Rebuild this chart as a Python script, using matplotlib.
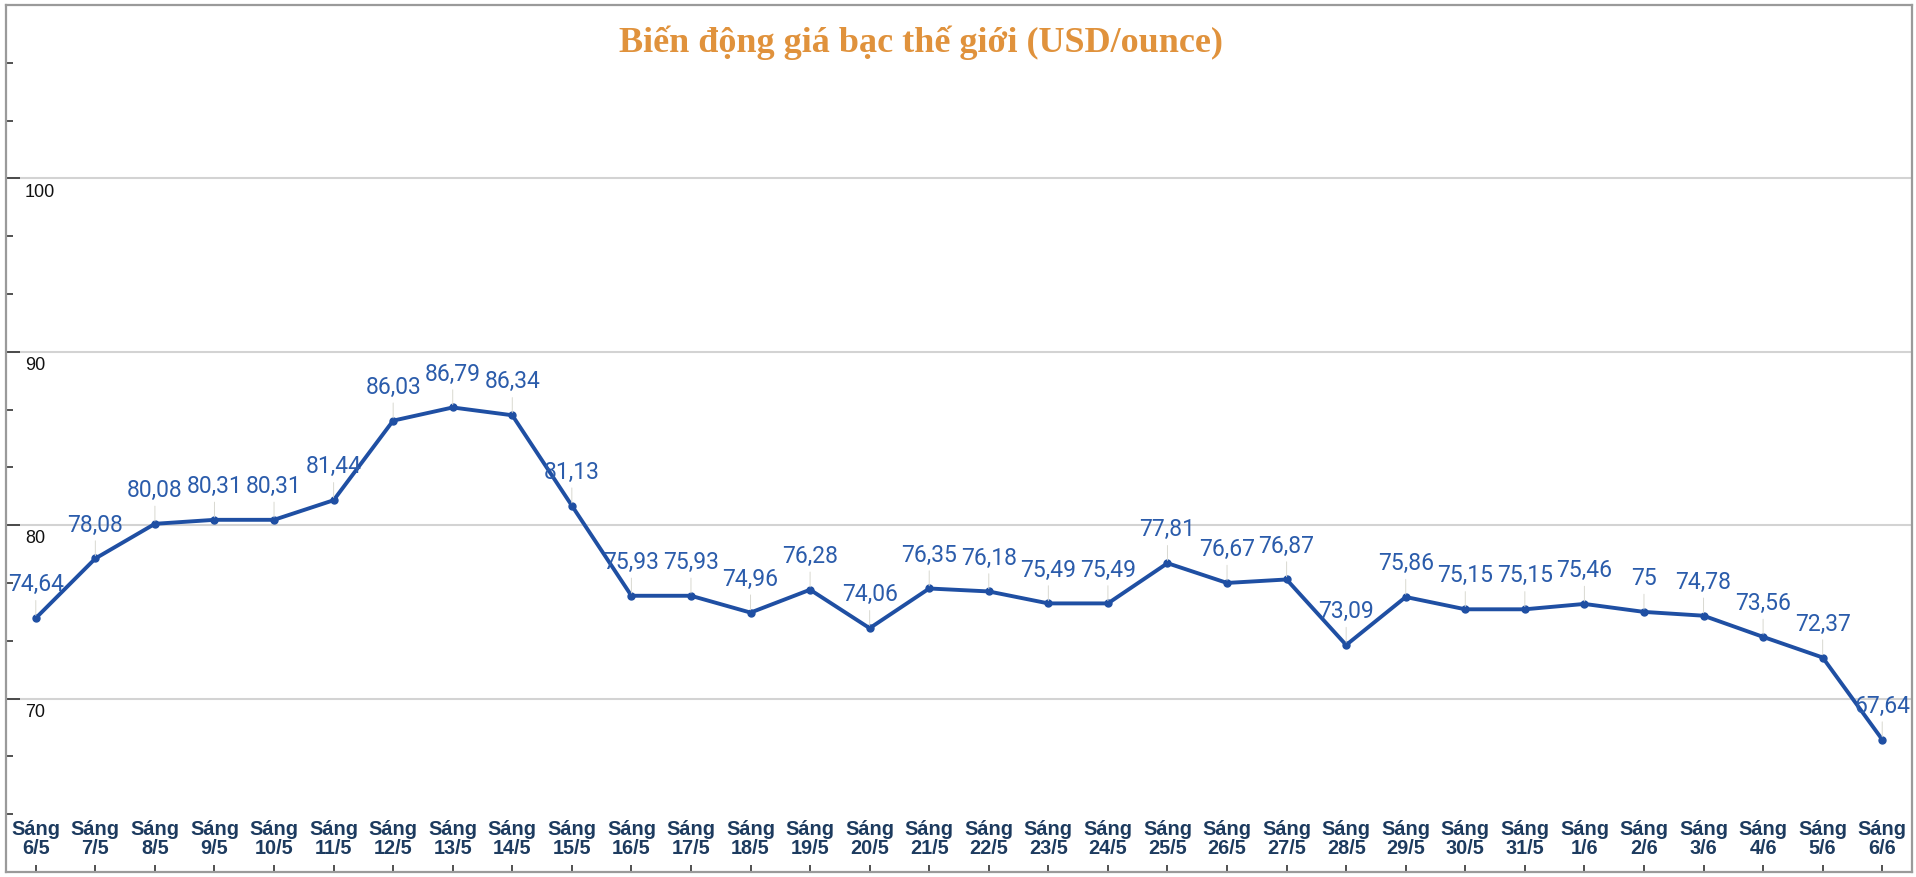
import matplotlib.pyplot as plt
import numpy as np
from matplotlib.ticker import MultipleLocator

# du lieu gia bac (USD/ounce)
days = ['6/5', '7/5', '8/5', '9/5', '10/5', '11/5', '12/5', '13/5', '14/5', '15/5',
        '16/5', '17/5', '18/5', '19/5', '20/5', '21/5', '22/5', '23/5', '24/5', '25/5',
        '26/5', '27/5', '28/5', '29/5', '30/5', '31/5', '1/6', '2/6', '3/6', '4/6',
        '5/6', '6/6']
prices = [74.64, 78.08, 80.08, 80.31, 80.31, 81.44, 86.03, 86.79, 86.34, 81.13,
          75.93, 75.93, 74.96, 76.28, 74.06, 76.35, 76.18, 75.49, 75.49, 77.81,
          76.67, 76.87, 73.09, 75.86, 75.15, 75.15, 75.46, 75.00, 74.78, 73.56,
          72.37, 67.64]
grid_values = [70, 80, 90, 100]

line_color = '#1f4fa3'
label_color = '#2b5cab'

fig = plt.figure(figsize=(19.16, 8.77), dpi=100)
ax = fig.add_axes([6 / 1916, 5 / 877, 1906 / 1916, 867 / 877])

x = np.arange(len(prices))
ax.plot(x, prices, color=line_color, lw=2.8, marker='o', ms=5, zorder=3)

def fmt(v):
    s = f'{v:.2f}'.rstrip('0').rstrip('.')
    return s.replace('.', ',')

for xi, v in zip(x, prices):
    ax.annotate(fmt(v), (xi, v), xytext=(0, 24), textcoords='offset points',
                ha='center', va='center', fontsize=16.5, color=label_color,
                family=['Roboto', 'DejaVu Sans'], zorder=4,
                arrowprops=dict(arrowstyle='-', color='#d8d8d0', lw=0.7,
                                shrinkA=1, shrinkB=2))

ax.set_xlim(-0.5, len(prices) - 0.5)
ax.set_ylim(60, 110)

for g in grid_values:
    ax.axhline(g, color='#d3d3d3', lw=1.5, zorder=1)
    ax.text(0.01, g - 0.3, str(g), transform=ax.get_yaxis_transform(),
            ha='left', va='top', fontsize=13, color='#111111',
            family='Liberation Sans')

# nhan truc x ben trong vung ve
for xi, d in zip(x, days):
    ax.text(xi, 61.9, f'Sáng\n{d}', ha='center', va='center', fontsize=14.3,
            fontweight='bold', color='#1d3b5f', linespacing=1.05,
            family='Liberation Sans')

ax.set_xticks(x)
ax.set_xticklabels([])
ax.set_yticks(grid_values)
ax.set_yticklabels([])
ax.yaxis.set_minor_locator(MultipleLocator(10 / 3))
ax.tick_params(axis='x', direction='in', length=5, width=1.2, color='#333333')
ax.tick_params(axis='y', which='major', direction='in', length=10, width=1.2, color='#333333')
ax.tick_params(axis='y', which='minor', direction='in', length=5, width=1.2, color='#333333')

for sp in ax.spines.values():
    sp.set_color('#9a9a9a')
    sp.set_linewidth(1.6)

fig.text(921 / 1916, 1 - 43 / 877, 'Biến động giá bạc thế giới (USD/ounce)',
         ha='center', va='center', fontsize=26, fontweight='bold',
         color='#e0923c', family='Liberation Serif')

fig.savefig('out.png', dpi=100)
